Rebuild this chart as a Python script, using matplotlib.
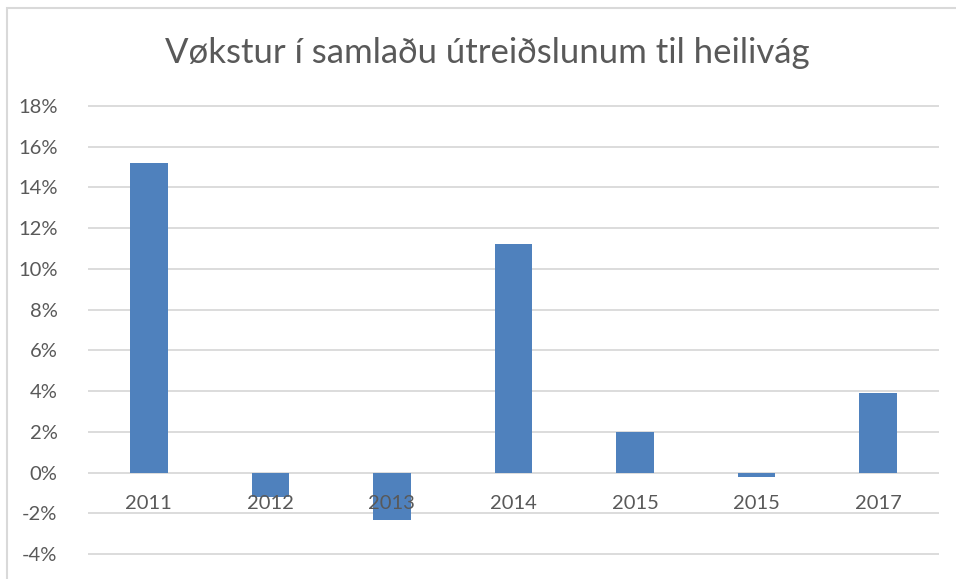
import matplotlib
matplotlib.use("Agg")
import matplotlib.pyplot as plt
from matplotlib.patches import Rectangle
from matplotlib.ticker import FuncFormatter

# Data
years = ["2011", "2012", "2013", "2014", "2015", "2015", "2017"]
growth = [15.2, -1.2, -2.35, 11.2, 2.0, -0.2, 3.9]  # percent

title = "Vøkstur í samlaðu útreiðslunum til heilivág"

plt.rcParams["font.family"] = ["Lato", "DejaVu Sans"]

W, H = 956, 579
fig = plt.figure(figsize=(W / 100, H / 100), dpi=100)
ax = fig.add_axes([88 / W, 0, (939 - 88) / W, 1])

# 18% sits at y=106 px and -4% at y=554 px (from the top)
top_px, bot_px = 106, 554
ymax, ymin = 18, -4
ppu = (bot_px - top_px) / (ymax - ymin)
ax.set_ylim(ymin - (H - bot_px) / ppu, ymax + top_px / ppu)

x = list(range(len(years)))
ax.bar(x, growth, width=0.31, color="#4f81bd", zorder=3)
ax.set_xlim(-0.5, len(years) - 0.5)

ax.set_yticks(range(-4, 19, 2))
ax.yaxis.set_major_formatter(FuncFormatter(lambda v, p: f"{v:.0f}%"))
ax.grid(axis="y", color="#d9d9d9", linewidth=1.3, zorder=0)
ax.set_axisbelow(True)
for s in ax.spines.values():
    s.set_visible(False)
ax.tick_params(axis="y", length=0, pad=22, labelsize=14.5, labelcolor="#595959")
ax.set_xticks([])
ax.patch.set_alpha(0)

# category labels sit just under the zero line, as in the original
for xi, lab in zip(x, years):
    ax.annotate(lab, xy=(xi, 0), xytext=(0, -22), textcoords="offset points",
                ha="center", va="center", fontsize=14.5, color="#595959", zorder=4)

fig.text(487 / W, 1 - 53 / H, title, ha="center", va="center",
         fontsize=25, color="#595959")

# chart border of the screenshot (left and top edges visible)
fig.patches.append(Rectangle((7 / W, -0.1), 1.2, (H - 8) / H + 0.1,
                             transform=fig.transFigure, fill=False,
                             edgecolor="#d9d9d9", linewidth=1.5))

fig.savefig("out.png", dpi=100)
